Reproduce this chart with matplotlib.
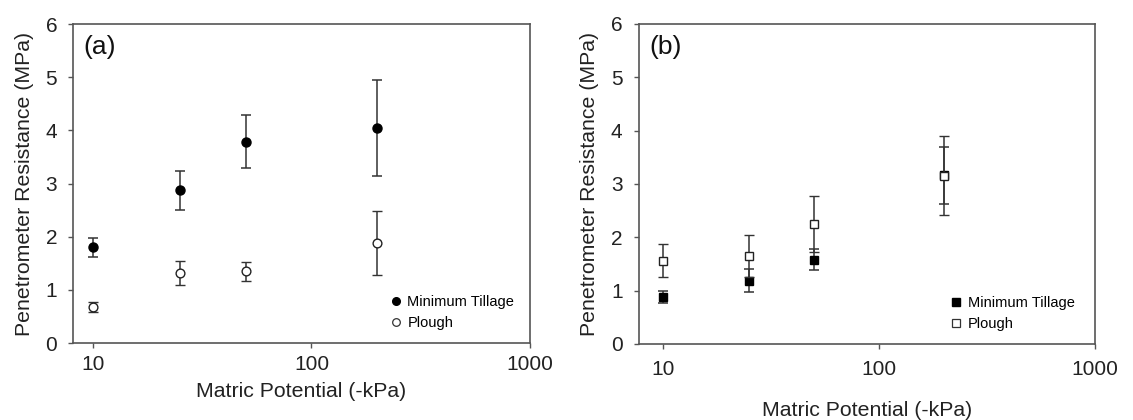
import matplotlib
matplotlib.use("Agg")
import matplotlib.pyplot as plt
from matplotlib.ticker import FixedLocator, NullLocator
from matplotlib.lines import Line2D

plt.rcParams['font.family'] = ['Liberation Sans', 'DejaVu Sans']

# Data
potential = [10, 25, 50, 200]
a_mt = [1.80, 2.87, 3.79, 4.04]
a_mt_err = [0.18, 0.37, 0.49, 0.90]
a_pl = [0.68, 1.32, 1.35, 1.88]
a_pl_err = [0.09, 0.23, 0.18, 0.60]

b_mt = [0.88, 1.19, 1.58, 3.16]
b_mt_err = [0.12, 0.22, 0.20, 0.53]
b_pl = [1.56, 1.65, 2.25, 3.15]
b_pl_err = [0.31, 0.39, 0.53, 0.74]

series_names = ['Minimum Tillage', 'Plough']
xticks = [10, 100, 1000]
xtick_labels = ['10', '100', '1000']
yticks = [0, 1, 2, 3, 4, 5, 6]

fig = plt.figure(figsize=(11.33, 4.2), dpi=100)
ax1 = fig.add_axes([0.0644, 0.1833, 0.4034, 0.7595])
ax2 = fig.add_axes([0.564, 0.181, 0.4025, 0.762])

spine_col = '#555555'
err_col = '#333333'
txt_col = '#222222'

def style(ax, xmin, label, xlabel_y, xtick_pad, ytick_pad):
    ax.set_xscale('log')
    ax.set_xlim(xmin, 1000)
    ax.set_ylim(0, 6)
    ax.xaxis.set_major_locator(FixedLocator(xticks))
    ax.set_xticklabels(xtick_labels)
    ax.xaxis.set_minor_locator(NullLocator())
    ax.set_yticks(yticks)
    ax.set_yticklabels([str(v) for v in yticks])
    for s in ax.spines.values():
        s.set_color(spine_col)
        s.set_linewidth(1.2)
    ax.tick_params(direction='out', length=3.8, width=1, color=spine_col,
                   labelsize=15, labelcolor=txt_col)
    ax.tick_params(axis='x', pad=xtick_pad)
    ax.tick_params(axis='y', pad=ytick_pad)
    ax.set_ylabel('Penetrometer Resistance (MPa)', fontsize=15.3, color=txt_col, labelpad=8.5)
    ax.set_xlabel('Matric Potential (-kPa)', fontsize=15.3, color=txt_col, va='center')
    ax.xaxis.set_label_coords(0.5, xlabel_y)
    ax.text(0.022, 0.965, label, transform=ax.transAxes, fontsize=19,
            va='top', ha='left', color='#111111')

style(ax1, 8.1, '(a)', -0.152, 5, 7.5)
style(ax2, 7.74, '(b)', -0.207, 8, 8)

ekw = dict(ecolor=err_col, elinewidth=1.1, capsize=3.8, capthick=1.1, linestyle='none')

# Panel (a): circles
ax1.errorbar(potential, a_mt, yerr=a_mt_err, marker='o', ms=6.5, mfc='black', mec='black', **ekw)
ax1.errorbar(potential, a_pl, yerr=a_pl_err, marker='o', ms=6.3, mfc='white', mec='#222222',
             mew=1.0, **ekw)
h1 = [Line2D([], [], marker='o', ms=5.5, mfc='black', mec='black', ls='none'),
      Line2D([], [], marker='o', ms=5.5, mfc='white', mec='#333333', mew=0.9, ls='none')]
ax1.legend(h1, series_names, loc='lower left', bbox_to_anchor=(0.668, 0.0), frameon=False,
           fontsize=10.5, handlelength=0.6, handletextpad=0.5, labelspacing=0.45)

# Panel (b): squares
ax2.errorbar(potential, b_mt, yerr=b_mt_err, marker='s', ms=5.8, mfc='black', mec='black',
             zorder=2, **ekw)
ax2.errorbar(potential, b_pl, yerr=b_pl_err, marker='s', ms=6.3, mfc='white', mec='#222222',
             mew=1.0, zorder=3, **ekw)
h2 = [Line2D([], [], marker='s', ms=5.2, mfc='black', mec='black', ls='none'),
      Line2D([], [], marker='s', ms=5.2, mfc='white', mec='#333333', mew=0.9, ls='none')]
ax2.legend(h2, series_names, loc='lower left', bbox_to_anchor=(0.657, 0.0), frameon=False,
           fontsize=10.5, handlelength=0.6, handletextpad=0.5, labelspacing=0.45)

fig.savefig('out.png', dpi=100, facecolor='white')
